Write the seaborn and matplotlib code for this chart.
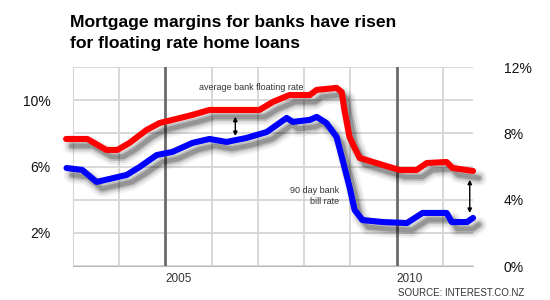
import numpy as np
import pandas as pd
import matplotlib
matplotlib.use("Agg")
import matplotlib.pyplot as plt
import matplotlib.patheffects as pe
import seaborn as sns

# ---- data ----
floating_years = [2002.85, 2003.31, 2003.72, 2003.96, 2004.22, 2004.59, 2004.87, 2005.15,
                  2005.58, 2005.95, 2006.32, 2007.03, 2007.32, 2007.68, 2008.12, 2008.27,
                  2008.70, 2008.81, 2008.87, 2008.98, 2009.09, 2009.20, 2009.35, 2009.70,
                  2010.06, 2010.43, 2010.65, 2011.08, 2011.21, 2011.65]
floating_rate = [7.66, 7.66, 7.00, 7.00, 7.42, 8.20, 8.62, 8.81,
                 9.11, 9.41, 9.41, 9.41, 9.89, 10.31, 10.31, 10.62,
                 10.74, 10.49, 9.41, 7.78, 7.12, 6.51, 6.39, 6.09,
                 5.79, 5.79, 6.21, 6.27, 5.91, 5.73]
bill_years = [2002.86, 2003.20, 2003.51, 2003.79, 2004.16, 2004.44, 2004.81, 2005.15,
              2005.58, 2005.95, 2006.32, 2006.75, 2007.19, 2007.62, 2007.75, 2008.12,
              2008.27, 2008.48, 2008.70, 2008.83, 2008.98, 2009.09, 2009.26, 2009.70,
              2010.22, 2010.56, 2011.08, 2011.19, 2011.52, 2011.65]
bill_rate = [5.91, 5.79, 5.07, 5.25, 5.49, 5.97, 6.69, 6.88,
             7.42, 7.66, 7.48, 7.72, 8.08, 8.93, 8.69, 8.81,
             8.99, 8.62, 7.78, 6.39, 4.76, 3.38, 2.77, 2.65,
             2.59, 3.20, 3.20, 2.65, 2.65, 2.90]
series_names = ["average bank floating rate", "90 day bank bill rate"]
left_ticks = [2, 6, 10]
right_ticks = [0, 4, 8, 12]
x_ticks = [2005, 2010]

df = pd.concat([
    pd.DataFrame({"year": floating_years, "rate": floating_rate, "series": series_names[0]}),
    pd.DataFrame({"year": bill_years, "rate": bill_rate, "series": series_names[1]}),
])

sns.set_style("white")
plt.rcParams["font.family"] = ["Liberation Sans", "DejaVu Sans"]

fig = plt.figure(figsize=(5.5, 3.0), dpi=100)
ax = fig.add_axes([73/550, 1-266/300, 400/550, 199/300])

# grid
grid_c = "#d6d6d6"
for yv in range(0, 13, 2):
    ax.axhline(yv, color=grid_c, lw=1.3, zorder=0)
for xv in range(2003, 2012):
    if xv in x_ticks:
        ax.axvline(xv, color="#6a6a6a", lw=2.0, zorder=1)
    else:
        ax.axvline(xv, color=grid_c, lw=1.3, zorder=0)

sns.lineplot(data=df, x="year", y="rate", hue="series", sort=False, estimator=None,
             palette={series_names[0]: "#ff0000", series_names[1]: "#0000ff"},
             linewidth=4.4, legend=False, ax=ax, zorder=3)

shadow = [
    pe.SimpleLineShadow(offset=(4, -5), shadow_color="#000000", alpha=0.05, linewidth=12),
    pe.SimpleLineShadow(offset=(4, -5), shadow_color="#000000", alpha=0.08, linewidth=9),
    pe.SimpleLineShadow(offset=(4, -5), shadow_color="#000000", alpha=0.14, linewidth=6),
    pe.SimpleLineShadow(offset=(4, -5), shadow_color="#000000", alpha=0.22, linewidth=3.5),
    pe.Normal(),
]
for ln in ax.lines[-2:]:
    ln.set_path_effects(shadow)
    ln.set_clip_on(False)
    ln.set_solid_capstyle("round")

ax.set_xlim(2003, 2011.65)
ax.set_ylim(0, 12)
ax.set_xlabel("")
ax.set_ylabel("")
for s in ["top", "right"]:
    ax.spines[s].set_visible(False)
ax.spines["left"].set_color(grid_c)
ax.spines["bottom"].set_color("#bbbbbb")

ax.set_xticks(x_ticks)
ax.set_xticklabels([str(x) for x in x_ticks], fontsize=8.5, color="#333333", ha="left")
ax.set_yticks(left_ticks)
ax.set_yticklabels([f"{v}%" for v in left_ticks], fontsize=10, color="#111111")
ax.tick_params(axis="both", length=0)
ax.tick_params(axis="y", pad=16)
ax.tick_params(axis="x", pad=5)

ax2 = ax.twinx()
ax2.set_ylim(0, 12)
ax2.set_yticks(right_ticks)
ax2.set_yticklabels([f"{v}%" for v in right_ticks], fontsize=10, color="#111111")
ax2.tick_params(axis="y", length=0, pad=22)
for s in ax2.spines.values():
    s.set_visible(False)

# annotations
ax.text(2006.85, 10.75, series_names[0], fontsize=6.5, color="#333333", ha="center", va="center")
ax.text(2008.76, 4.23, "90 day bank\nbill rate", fontsize=6.5, color="#333333",
        ha="right", va="center", linespacing=1.2)
arrow_kw = dict(arrowstyle="<|-|>", color="black", lw=1.0, mutation_scale=6, shrinkA=0, shrinkB=0)
ax.annotate("", xy=(2006.51, 9.0), xytext=(2006.51, 7.84), arrowprops=arrow_kw)
ax.annotate("", xy=(2011.58, 5.2), xytext=(2011.58, 3.2), arrowprops=arrow_kw, annotation_clip=False)

fig.text(70/550, 1-33/300, "Mortgage margins for banks have risen\nfor floating rate home loans",
         fontsize=12.6, fontweight="bold", ha="left", va="center", linespacing=1.45,
         color="#000000")
fig.text(398/550, 1-293/300, "SOURCE: INTEREST.CO.NZ", fontsize=7, color="#333333",
         ha="left", va="center")

fig.savefig("out.png", dpi=100, facecolor="white")
